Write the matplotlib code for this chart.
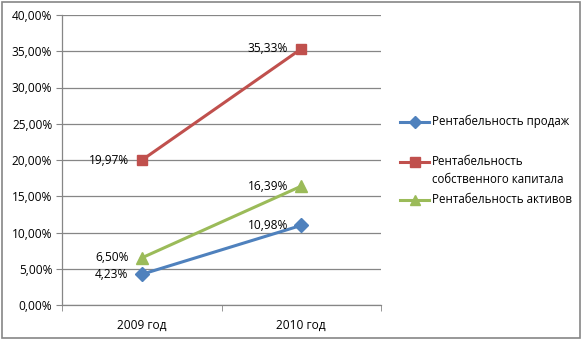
import matplotlib

matplotlib.use("Agg")

import matplotlib.pyplot as plt
from matplotlib.lines import Line2D
from matplotlib.patches import Rectangle
from matplotlib.ticker import FixedLocator, FuncFormatter

years = ["2009 год", "2010 год"]
sales_margin = [4.23, 10.98]
equity_return = [19.97, 35.33]
assets_return = [6.50, 16.39]

series = [
    ("Рентабельность продаж", sales_margin, "#4F81BD", "D", 7),
    ("Рентабельность\nсобственного капитала", equity_return, "#C0504D", "s", 7.5),
    ("Рентабельность активов", assets_return, "#9BBB59", "^", 8),
]

plt.rcParams["font.family"] = ["Open Sans", "DejaVu Sans"]
plt.rcParams["font.size"] = 8.6

W, H = 582, 339
fig = plt.figure(figsize=(W / 100, H / 100), dpi=100)
fig.patches.append(Rectangle((0.003, 0.004), 0.993, 0.991, transform=fig.transFigure,
                             fill=False, edgecolor="#868686", linewidth=1.2))

ax = fig.add_axes([62 / W, 1 - 305 / H, 319 / W, 290 / H])
x = list(range(len(years)))

def pct(v):
    return f"{v:.2f}%".replace(".", ",")

for label, values, color, marker, size in series:
    ax.plot(x, values, color=color, linewidth=2.2, marker=marker, markersize=size,
            markeredgecolor=color, zorder=3)
    for xi, v in zip(x, values):
        ax.annotate(pct(v), (xi, v), xytext=(-9.5, 0), textcoords="offset points",
                    ha="right", va="center", fontsize=8.6, color="black", zorder=4)

ax.set_xlim(-0.5, len(years) - 0.5)
ax.set_ylim(0, 40)
ax.set_yticks(range(0, 41, 5))
ax.yaxis.set_major_formatter(FuncFormatter(lambda v, _: pct(v)))
ax.set_xticks(x)
ax.set_xticklabels(years)
ax.xaxis.set_minor_locator(FixedLocator([-0.5, 0.5, 1.5]))
ax.tick_params(axis="x", which="major", length=0, pad=10)
ax.tick_params(axis="x", which="minor", length=4, color="#868686")
ax.tick_params(axis="y", length=4, color="#868686", pad=3)
ax.grid(axis="y", color="#868686", linewidth=0.9)
ax.set_axisbelow(True)

for side in ("top", "right"):
    ax.spines[side].set_visible(False)
for side in ("left", "bottom"):
    ax.spines[side].set_color("#868686")
    ax.spines[side].set_linewidth(0.9)

# legend on the right, handle aligned with the first line of each label
legend_rows = [122, 162, 200]
x0, x1, tx = 400 / W, 429 / W, 432 / W
for (label, _, color, marker, size), row in zip(series, legend_rows):
    y = 1 - row / H
    fig.add_artist(Line2D([x0, x1], [y, y], transform=fig.transFigure, color=color,
                          linewidth=2.2))
    fig.add_artist(Line2D([(x0 + x1) / 2], [y], transform=fig.transFigure, color=color,
                          marker=marker, markersize=size - 1, linestyle="none"))
    fig.text(tx, y + 7 / H, label, ha="left", va="top", fontsize=8.3, linespacing=1.45)

fig.savefig("out.png", dpi=100)
